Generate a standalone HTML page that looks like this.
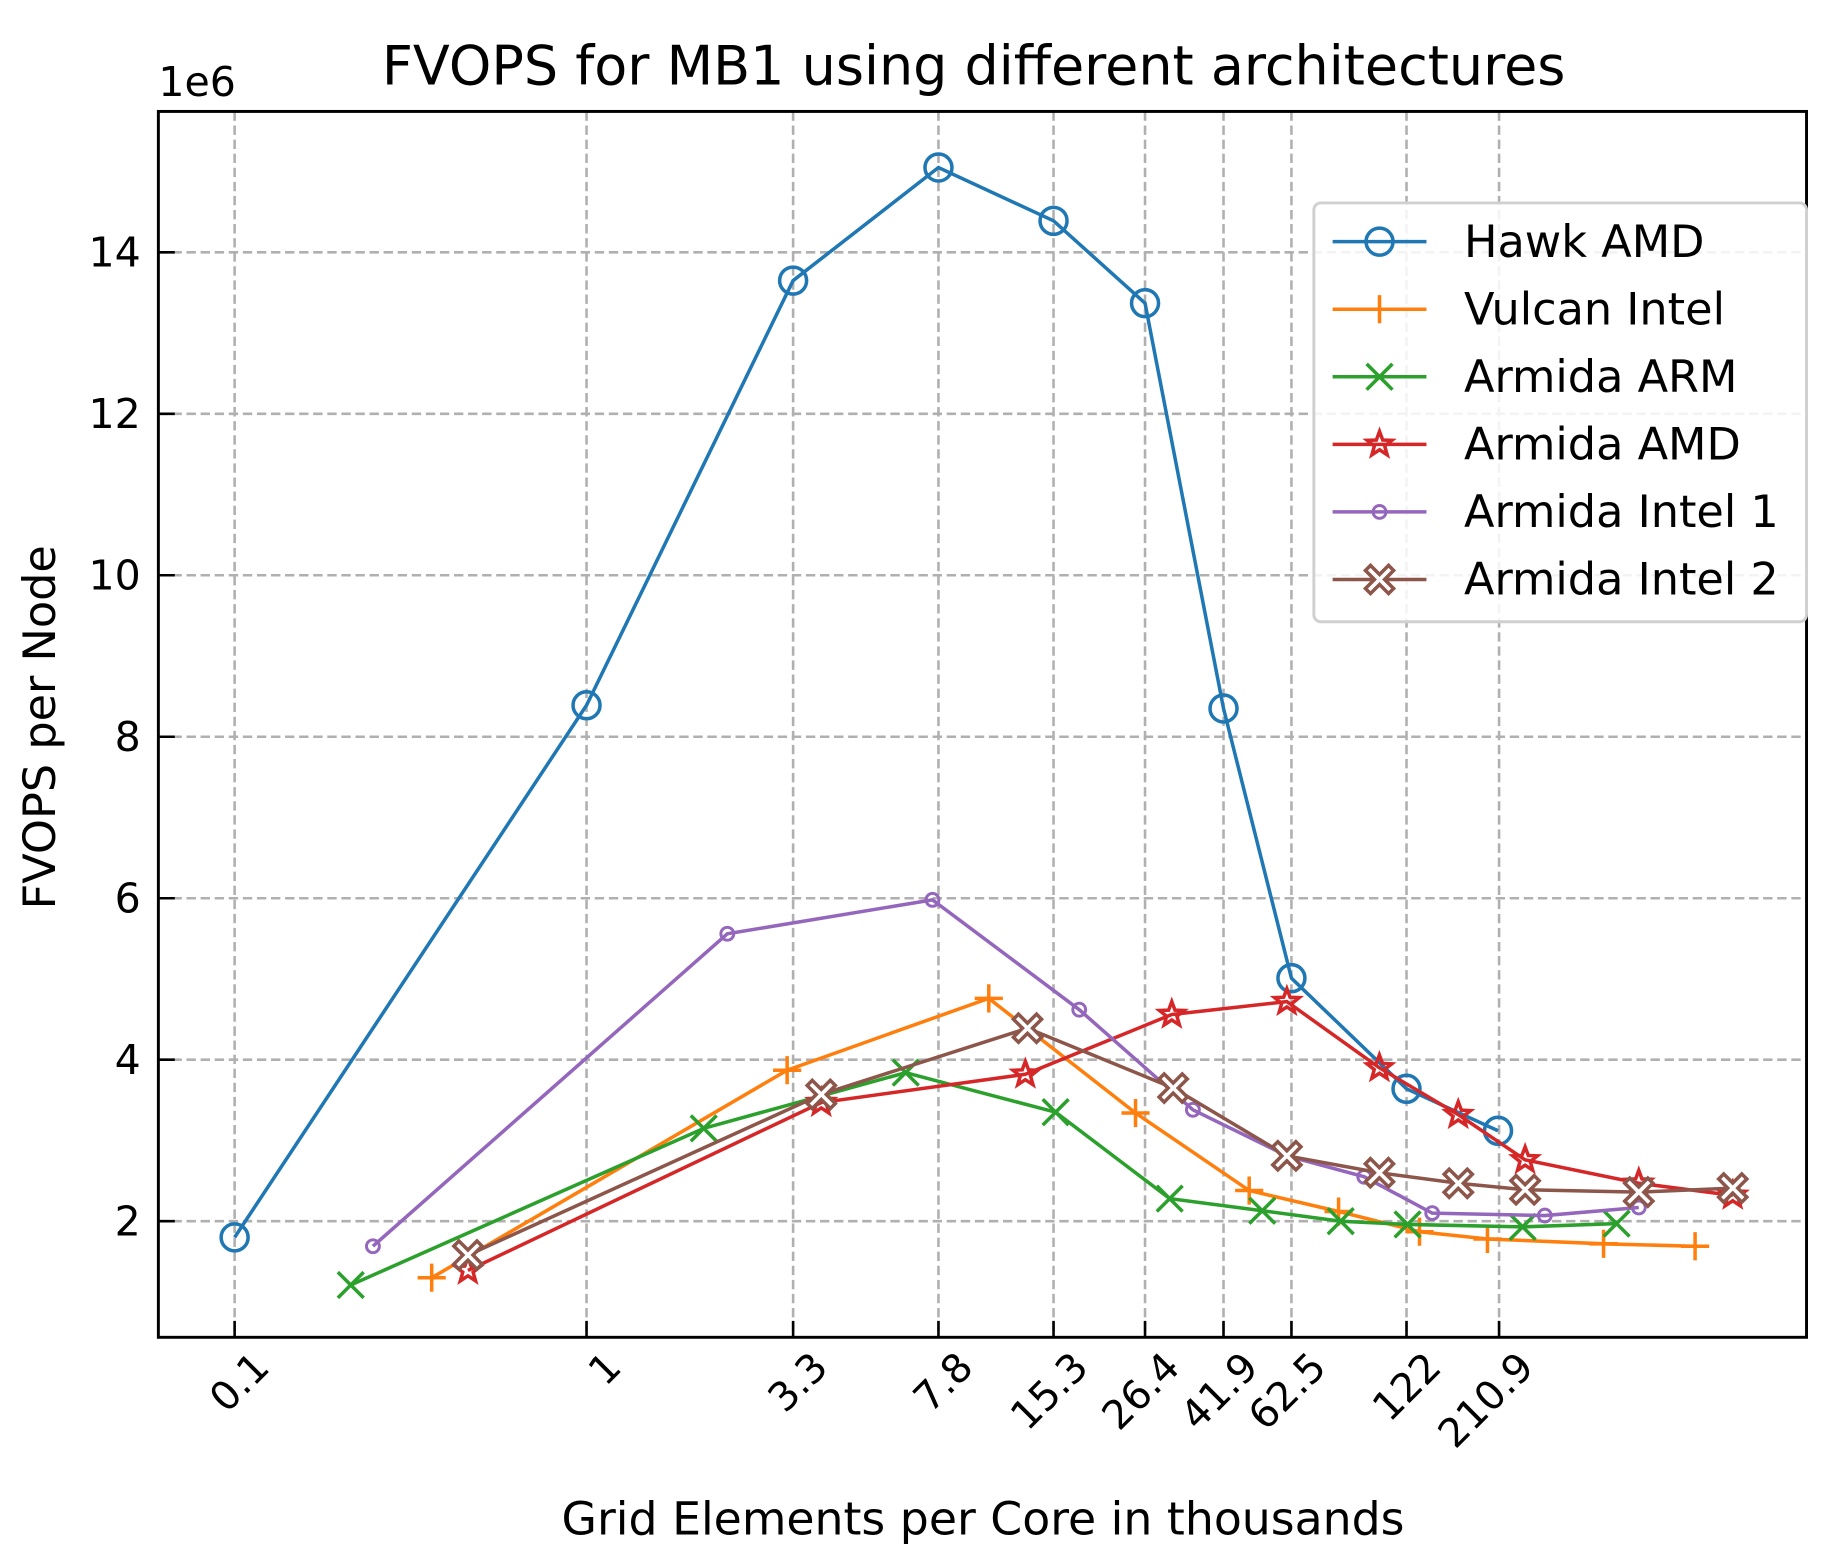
<!DOCTYPE html>
<html><head><meta charset="utf-8"><style>
html,body{margin:0;padding:0;background:#fff;}
svg{display:block;font-family:"DejaVu Sans","Liberation Sans",sans-serif;}
</style></head><body>
<svg id="chart" width="1830" height="1561" viewBox="0 0 1560 1330.7" xmlns="http://www.w3.org/2000/svg">
<rect width="1560" height="1331" fill="#fff"/>
<g id="grid"></g>
<g id="series"></g>
<rect x="135" y="95" width="1405" height="1045" fill="none" stroke="#000" stroke-width="2.5"/>
<g id="axes"></g>
<text x="830" y="72" font-size="46" text-anchor="middle">FVOPS for MB1 using different architectures</text>
<text x="135" y="82" font-size="35">1e6</text>
<text transform="translate(47,620) rotate(-90)" font-size="38" text-anchor="middle">FVOPS per Node</text>
<text x="838" y="1308" font-size="39" text-anchor="middle">Grid Elements per Core in thousands</text>
<g id="legend"></g>
</svg>
<script>
const xTickLabels=["0.1","1","3.3","7.8","15.3","26.4","41.9","62.5","122","210.9"];
const xTickPos=[-1,0,0.587,1,1.327,1.587,1.81,2.003,2.33,2.593];
const yTicks=[2,4,6,8,10,12,14];
const seriesNames=["Hawk AMD","Vulcan Intel","Armida ARM","Armida AMD","Armida Intel 1","Armida Intel 2"];
const hawkX=[-1,0,0.587,1,1.327,1.587,1.81,2.003,2.33,2.59];
const hawkY=[1.8,8.39,13.65,15.05,14.39,13.37,8.35,5.01,3.64,3.12];
const vulcanX=[-0.44,0.57,1.143,1.56,1.883,2.137,2.367,2.56,2.89,3.15];
const vulcanY=[1.3,3.87,4.76,3.34,2.38,2.12,1.87,1.78,1.72,1.69];
const armX=[-0.67,0.333,0.907,1.333,1.657,1.92,2.143,2.333,2.66,2.927];
const armY=[1.21,3.15,3.84,3.35,2.28,2.13,2.0,1.96,1.93,1.97];
const amdX=[-0.337,0.667,1.247,1.663,1.99,2.253,2.477,2.667,2.99,3.257];
const amdY=[1.39,3.47,3.82,4.56,4.72,3.9,3.32,2.76,2.47,2.32];
const intel1X=[-0.607,0.4,0.983,1.4,1.723,1.99,2.21,2.403,2.723,2.99];
const intel1Y=[1.69,5.56,5.98,4.62,3.38,2.81,2.55,2.1,2.07,2.17];
const intel2X=[-0.337,0.667,1.253,1.667,1.99,2.253,2.477,2.667,2.99,3.257];
const intel2Y=[1.58,3.57,4.39,3.65,2.81,2.6,2.47,2.39,2.36,2.41];

const NS="http://www.w3.org/2000/svg";
function sx(u){return 500+300*u;}
function sy(v){return 1178.7-68.83*v;}
function mk(tag,attrs,parent){const e=document.createElementNS(NS,tag);for(const k in attrs)e.setAttribute(k,attrs[k]);parent.appendChild(e);return e;}
const grid=document.getElementById('grid'),axes=document.getElementById('axes'),ser=document.getElementById('series'),leg=document.getElementById('legend');
xTickPos.forEach((u,i)=>{
  const x=sx(u);
  const g=mk('line',{x1:x,x2:x,y1:95,y2:1140,stroke:'#b0b0b0','stroke-width':2.2,'stroke-dasharray':'8,4'},grid);
  
  
  const t=mk('line',{x1:x,x2:x,y1:1140,y2:1126,stroke:'#000','stroke-width':2.2},axes);
  
  
  const l=mk('text',{transform:`translate(${x+14},${1150}) rotate(-45)`,'font-size':34,'text-anchor':'end','dominant-baseline':'hanging'},axes);
  l.textContent=xTickLabels[i];
  
  
});
yTicks.forEach(v=>{
  const y=sy(v);
  const g=mk('line',{x1:135,x2:1540,y1:y,y2:y,stroke:'#b0b0b0','stroke-width':2.2,'stroke-dasharray':'8,4'},grid);
  
  
  const t=mk('line',{x1:135,x2:149,y1:y,y2:y,stroke:'#000','stroke-width':2.2},axes);
  
  
  const l=mk('text',{x:120,y:y+12,'font-size':35,'text-anchor':'end'},axes);
  l.textContent=v;
  
  
});
function star(cx,cy,r){let p=[];for(let i=0;i<10;i++){const a=-Math.PI/2+i*Math.PI/5;const rr=i%2?r*0.42:r;p.push((cx+rr*Math.cos(a)).toFixed(1)+','+(cy+rr*Math.sin(a)).toFixed(1));}return p.join(' ');}
function xmark(cx,cy,r){const w=r*0.36;const pts=[[0,-w],[r-w,-r],[r,-r+w],[w,0],[r,r-w],[r-w,r],[0,w],[-r+w,r],[-r,r-w],[-w,0],[-r,-r+w],[-r+w,-r]];return pts.map(p=>(cx+p[0]).toFixed(1)+','+(cy+p[1]).toFixed(1)).join(' ');}
function marker(type,x,y,c,parent){
  let e;
  if(type==='o') e=mk('circle',{cx:x,cy:y,r:11.5,fill:'none',stroke:c,'stroke-width':3},parent);
  else if(type==='+') e=mk('path',{d:`M${x-12},${y}H${x+12}M${x},${y-12}V${y+12}`,stroke:c,'stroke-width':3,fill:'none'},parent);
  else if(type==='x') e=mk('path',{d:`M${x-11},${y-11}L${x+11},${y+11}M${x+11},${y-11}L${x-11},${y+11}`,stroke:c,'stroke-width':3,fill:'none'},parent);
  else if(type==='*') e=mk('polygon',{points:star(x,y,11),fill:'none',stroke:c,'stroke-width':3},parent);
  else if(type==='.') e=mk('circle',{cx:x,cy:y,r:5.5,fill:'none',stroke:c,'stroke-width':2.5},parent);
  else e=mk('polygon',{points:xmark(x,y,12),fill:'#fff',stroke:c,'stroke-width':3},parent);
  return e;
}
const S=[[hawkX,hawkY,'#1f77b4','o'],[vulcanX,vulcanY,'#ff7f0e','+'],[armX,armY,'#2ca02c','x'],[amdX,amdY,'#d62728','*'],[intel1X,intel1Y,'#9467bd','.'],[intel2X,intel2Y,'#8c564b','X']];
S.forEach((s,k)=>{
  const g=mk('g',{},ser);
  
  
  const pts=s[0].map((u,i)=>sx(u)+','+sy(s[1][i])).join(' ');
  const pl=mk('polyline',{points:pts,fill:'none',stroke:s[2],'stroke-width':3},g);
  
  
  s[0].forEach((u,i)=>{
    const m=marker(s[3],sx(u),sy(s[1][i]),s[2],g);
    
    
  });
});
const lb=mk('rect',{x:1120,y:173,width:420,height:357,rx:6,fill:'#fff','fill-opacity':0.85,stroke:'#d0d0d0','stroke-width':2.5},leg);


S.forEach((s,k)=>{
  const y=206+57.6*k;
  const g=mk('g',{},leg);
  
  
  mk('line',{x1:1136,x2:1216,y1:y,y2:y,stroke:s[2],'stroke-width':3},g);
  marker(s[3],1176,y,s[2],g);
  const t=mk('text',{x:1248,y:y+13,'font-size':38},g);
  t.textContent=seriesNames[k];
});
</script>
</body></html>
